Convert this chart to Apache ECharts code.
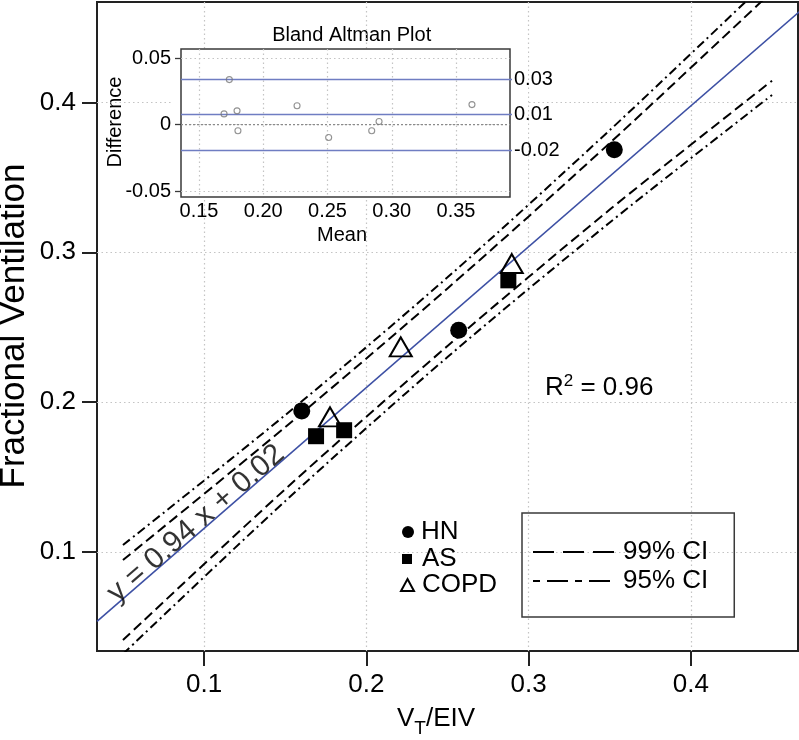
<!DOCTYPE html>
<html><head><meta charset="utf-8">
<script src="https://cdn.jsdelivr.net/npm/echarts@6/dist/echarts.min.js"></script>
<style>html,body{margin:0;padding:0;background:#fff}#c{width:799px;height:740px}</style>
</head><body><div id="c"></div>
<script>
// ---- data ----
const xTicks = [0.1, 0.2, 0.3, 0.4];
const yTicks = [0.1, 0.2, 0.3, 0.4];
const hnX = [0.1602, 0.2569, 0.3528];
const hnY = [0.1942, 0.2480, 0.3685];
const asX = [0.1690, 0.1863, 0.2875];
const asY = [0.1773, 0.1813, 0.2813];
const copdX = [0.1776, 0.2212, 0.2896];
const copdY = [0.1902, 0.2369, 0.2925];
const fitX = [0.034, 0.467];
const fitY = [0.0537, 0.4607];
const ciX = [0.05, 0.15, 0.25, 0.35, 0.45];
const upper99 = [0.0947, 0.1834, 0.2759, 0.3729, 0.4740];
const upper95 = [0.1047, 0.1914, 0.2833, 0.3815, 0.4840];
const lower99 = [0.0413, 0.1420, 0.2375, 0.3285, 0.4145];
const lower95 = [0.0320, 0.1340, 0.2301, 0.3199, 0.4050];
const eqPos = [0.0950, 0.1190];
// inset (Bland Altman)
const insetXTicks = [0.15, 0.20, 0.25, 0.30, 0.35];
const insetYTicks = [-0.05, 0, 0.05];
const baMean = [0.1695, 0.1736, 0.1796, 0.1803, 0.2263, 0.2509, 0.2844, 0.2901, 0.3624];
const baDiff = [0.0080, 0.0338, 0.0103, -0.0047, 0.0141, -0.0098, -0.0047, 0.0023, 0.0150];
const baLimits = [0.0338, 0.0075, -0.0195];
const baLimitLabels = ['0.03', '0.01', '-0.02'];
const baLineX = [0.136, 0.3974];
const zeroLineX = [0.136, 0.392];

const pair = (xs, ys) => xs.map((x, i) => [x, ys[i]]);
const FONT = 'Liberation Sans, Helvetica, Arial, sans-serif';
const chart = echarts.init(document.getElementById('c'), null, {renderer: 'canvas'});

const dotted = {color: '#c4c4c4', type: [1.5, 3], width: 1.2};

const series = [
  {type: 'line', name: 'fit', xAxisIndex: 0, yAxisIndex: 0, data: pair(fitX, fitY), symbol: 'none',
   lineStyle: {color: '#3d50a4', width: 1.6}, z: 3},
  {type: 'line', name: '99% CI', xAxisIndex: 0, yAxisIndex: 0, data: pair(ciX, upper99), symbol: 'none', smooth: 0.3,
   lineStyle: {color: '#000', width: 2, type: [10, 5]}, itemStyle: {color: '#000'}, z: 3},
  {type: 'line', name: '99% CI', xAxisIndex: 0, yAxisIndex: 0, data: pair(ciX, lower99), symbol: 'none', smooth: 0.3,
   lineStyle: {color: '#000', width: 2, type: [10, 5]}, itemStyle: {color: '#000'}, z: 3},
  {type: 'line', name: '95% CI', xAxisIndex: 0, yAxisIndex: 0, data: pair(ciX, upper95), symbol: 'none', smooth: 0.3,
   lineStyle: {color: '#000', width: 2, type: [9, 4, 2, 4]}, itemStyle: {color: '#000'}, z: 3},
  {type: 'line', name: '95% CI', xAxisIndex: 0, yAxisIndex: 0, data: pair(ciX, lower95), symbol: 'none', smooth: 0.3,
   lineStyle: {color: '#000', width: 2, type: [9, 4, 2, 4]}, itemStyle: {color: '#000'}, z: 3},
  {type: 'scatter', name: 'HN', xAxisIndex: 0, yAxisIndex: 0, data: pair(hnX, hnY), symbol: 'circle', symbolSize: 17,
   itemStyle: {color: '#000', opacity: 1}, z: 4},
  {type: 'scatter', name: 'AS', xAxisIndex: 0, yAxisIndex: 0, data: pair(asX, asY), symbol: 'rect', symbolSize: 16,
   itemStyle: {color: '#000', opacity: 1}, z: 4},
  {type: 'scatter', name: 'COPD', xAxisIndex: 0, yAxisIndex: 0, data: pair(copdX, copdY), symbol: 'triangle', symbolSize: [22, 19],
   itemStyle: {color: 'rgba(255,255,255,0)', borderColor: '#000', borderWidth: 2, opacity: 1}, z: 4},
  {type: 'scatter', name: 'eq', xAxisIndex: 0, yAxisIndex: 0, data: [eqPos], symbolSize: 1,
   itemStyle: {color: 'rgba(0,0,0,0)'}, silent: true, z: 5,
   label: {show: true, position: 'inside', rotate: 41, formatter: 'y = 0.94 x + 0.02',
           fontSize: 30, color: '#000', fontFamily: FONT}},
  // inset
  {type: 'line', name: 'zero', xAxisIndex: 2, yAxisIndex: 2, data: pair(zeroLineX, [0, 0]), symbol: 'none',
   lineStyle: {color: '#8a8a8a', width: 1.2, type: [2, 2]}, z: 5}
];
baLimits.forEach((v, i) => {
  series.push({type: 'line', name: 'lim' + i, xAxisIndex: 2, yAxisIndex: 2, data: pair(baLineX, [v, v]),
    symbol: 'none', clip: false, lineStyle: {color: '#6f7dc2', width: 1.5}, z: 5,
    endLabel: {show: true, formatter: () => baLimitLabels[i], fontSize: 20, color: '#000', distance: 2, fontFamily: FONT}});
});
series.push({type: 'scatter', name: 'ba', xAxisIndex: 2, yAxisIndex: 2, data: pair(baMean, baDiff), symbol: 'circle',
  symbolSize: 6, itemStyle: {color: 'rgba(255,255,255,0)', borderColor: '#777', borderWidth: 1.1}, z: 6});

const legendBase = {orient: 'vertical', padding: 0, itemGap: 1, selectedMode: false,
  textStyle: {fontSize: 26, color: '#000', lineHeight: 26, fontFamily: FONT}};

const option = {
  animation: false,
  textStyle: {fontFamily: FONT},
  grid: [
    {left: 97, top: 2, width: 701, height: 649, show: true, borderColor: '#222', borderWidth: 2, backgroundColor: 'rgba(0,0,0,0)', z: 0},
    {left: 173, top: 49, width: 355, height: 148, show: true, borderWidth: 0, backgroundColor: '#fff', z: 1},
    {left: 181, top: 49, width: 329, height: 148, show: true, borderColor: '#3a3a3a', borderWidth: 1.5, backgroundColor: '#fff', z: 2}
  ],
  xAxis: [
    {gridIndex: 0, type: 'value', min: 0.034, max: 0.466,
     axisLine: {show: false},
     axisTick: {show: true, customValues: xTicks, length: 15, lineStyle: {color: '#222', width: 2}},
     axisLabel: {customValues: xTicks, fontSize: 26, color: '#000', margin: 21, formatter: v => v.toFixed(1)},
     splitLine: {show: true, lineStyle: dotted}},
    {gridIndex: 1, type: 'value', show: false, min: 0, max: 1, splitLine: {show: false}},
    {gridIndex: 2, type: 'value', min: 0.136, max: 0.392, z: 3,
     axisLine: {show: false},
     axisTick: {show: false, customValues: insetXTicks},
     axisLabel: {customValues: insetXTicks, fontSize: 20, color: '#000', margin: 4, formatter: v => v.toFixed(2)},
     splitLine: {show: true, lineStyle: dotted}}
  ],
  yAxis: [
    {gridIndex: 0, type: 'value', min: 0.034, max: 0.467,
     axisLine: {show: false},
     axisTick: {show: true, customValues: yTicks, length: 15, lineStyle: {color: '#222', width: 2}},
     axisLabel: {customValues: yTicks, fontSize: 26, color: '#000', margin: 21, formatter: v => v.toFixed(1)},
     splitLine: {show: true, lineStyle: dotted}},
    {gridIndex: 1, type: 'value', show: false, min: 0, max: 1, splitLine: {show: false}},
    {gridIndex: 2, type: 'value', min: -0.0545, max: 0.0568, z: 3,
     axisLine: {show: false},
     axisTick: {show: true, customValues: insetYTicks, length: 6, lineStyle: {color: '#3a3a3a', width: 1.3}},
     axisLabel: {customValues: insetYTicks, fontSize: 20, color: '#000', margin: 10,
                 formatter: v => (Math.abs(v) < 1e-9 ? '0' : v.toFixed(2))},
     splitLine: {show: true, lineStyle: dotted}}
  ],
  legend: [
    Object.assign({}, legendBase, {left: 402, top: 519, itemWidth: 12, itemHeight: 12, data: [{name: 'HN', icon: 'circle'}],
      textStyle: Object.assign({}, legendBase.textStyle, {padding: [0, 0, 0, 2]})}),
    Object.assign({}, legendBase, {left: 402, top: 546, itemWidth: 10, itemHeight: 10, data: [{name: 'AS', icon: 'rect'}],
      textStyle: Object.assign({}, legendBase.textStyle, {padding: [0, 0, 0, 5]})}),
    Object.assign({}, legendBase, {left: 400, top: 572, itemWidth: 13, itemHeight: 12, data: [{name: 'COPD', icon: 'triangle'}],
      textStyle: Object.assign({}, legendBase.textStyle, {padding: [0, 0, 0, 3]})}),
    Object.assign({}, legendBase, {left: 522, top: 513, itemWidth: 81, itemHeight: 14, itemGap: 3,
      padding: [26, 26, 23, 10], borderColor: '#3a3a3a', borderWidth: 1.5,
      itemStyle: {opacity: 0, color: 'rgba(0,0,0,0)', borderWidth: 0},
      textStyle: Object.assign({}, legendBase.textStyle, {padding: [0, 0, 0, 4]}),
      data: [{name: '99% CI', lineStyle: {type: [21, 9]}}, {name: '95% CI', lineStyle: {type: [7, 7, 21, 7]}}]})
  ],
  series: series,
  graphic: [
    {type: 'text', x: 14, y: 326, rotation: Math.PI / 2,
     style: {text: 'Fractional Ventilation', fontSize: 35, fontFamily: FONT, fill: '#000', align: 'center', verticalAlign: 'middle'}},
    {type: 'text', x: 397, y: 719,
     style: {text: '{a|V}{b|T}{a|/EIV}', fontFamily: FONT, fill: '#000', align: 'left', verticalAlign: 'middle',
       rich: {a: {fontSize: 26, lineHeight: 38, verticalAlign: 'middle', fontFamily: FONT},
              b: {fontSize: 19, lineHeight: 18, verticalAlign: 'bottom', fontFamily: FONT}}}},
    {type: 'text', x: 115.5, y: 122, rotation: Math.PI / 2,
     style: {text: 'Difference', fontSize: 20, fontFamily: FONT, fill: '#000', align: 'center', verticalAlign: 'middle'}},
    {type: 'text', x: 351.7, y: 35,
     style: {text: 'Bland Altman Plot', fontSize: 20, fontFamily: FONT, fill: '#000', align: 'center', verticalAlign: 'middle'}},
    {type: 'text', x: 342, y: 235,
     style: {text: 'Mean', fontSize: 20, fontFamily: FONT, fill: '#000', align: 'center', verticalAlign: 'middle'}},
    {type: 'text', x: 545, y: 388,
     style: {text: '{a|R}{s|2}{a| = 0.96}', fontFamily: FONT, fill: '#000', align: 'left', verticalAlign: 'middle',
       rich: {a: {fontSize: 26, lineHeight: 30, verticalAlign: 'middle', fontFamily: FONT},
              s: {fontSize: 17, lineHeight: 16, verticalAlign: 'top', fontFamily: FONT}}}}
  ]
};
chart.setOption(option);
</script></body></html>
